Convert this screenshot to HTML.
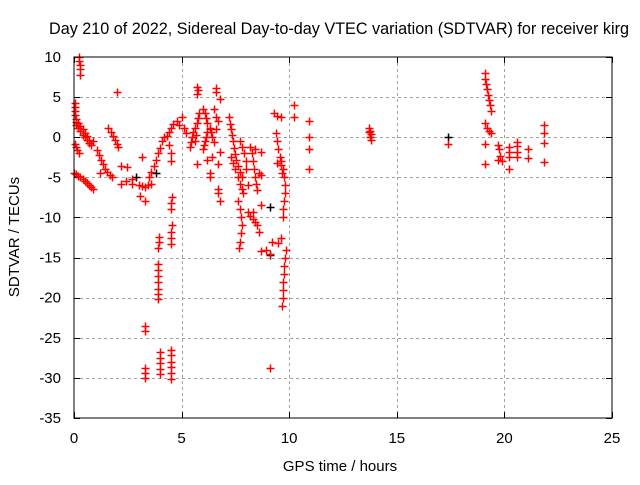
<!DOCTYPE html>
<html><head><meta charset="utf-8"><style>
body{margin:0;background:#fff}
svg text{font-family:"Liberation Sans",sans-serif;font-size:15px;fill:#000}
</style></head><body>
<svg id="chart" width="640" height="480" viewBox="0 0 640 480">
<rect width="640" height="480" fill="#fff"/>
<g id="grid"></g>
<g id="ticks"></g>
<g id="marks"></g>
<rect x="74" y="57" width="538" height="361" fill="none" stroke="#000" stroke-width="1"/>
<text x="339" y="34" text-anchor="middle" style="font-size:16.2px">Day 210 of 2022, Sidereal Day-to-day VTEC variation (SDTVAR) for receiver kirg</text>
<text x="340" y="471" text-anchor="middle">GPS time / hours</text>
<text transform="translate(19,237) rotate(-90)" text-anchor="middle">SDTVAR / TECUs</text>
</svg>
<script>
const xTicks=[0,5,10,15,20,25];
const yTicks=[10,5,0,-5,-10,-15,-20,-25,-30,-35];
const redPoints=[[0.25,10],[0.25,9.5],[0.27,9],[0.3,8.5],[0.3,7.8],[2.0,5.6],
[0.03,4.3],[0.04,3.8],[0.05,3.3],[0.06,2.8],[0.07,2.3],[0.08,1.9],
[0.1,1.5],[0.2,1.1],[0.3,0.8],[0.4,0.3],[0.5,0],[0.6,-0.4],[0.7,-0.7],[0.8,-1],
[0.2,1.8],[0.3,1.4],[0.4,1.0],[0.5,0.5],[0.6,0.1],[0.7,-0.3],[0.9,-0.5],
[0.05,-0.8],[0.1,-1.2],[0.15,-1.6],[0.25,-2],
[1.6,1.2],[1.7,0.7],[1.8,0.2],[1.9,-0.3],[2.0,-0.8],[2.05,-1.2],
[1.05,-1.6],[1.15,-2.2],[1.25,-2.8],[1.35,-3.4],[1.45,-3.9],[1.55,-4.3],[1.65,-4.7],[1.75,-5],
[0,-4.5],[0.1,-4.6],[0.2,-4.8],[0.3,-5.0],[0.4,-5.2],[0.5,-5.4],[0.6,-5.7],[0.7,-5.9],[0.8,-6.2],[0.9,-6.4],
[1.2,-4.4],[2.2,-3.6],[2.45,-3.7],[2.2,-5.8],[2.4,-5.5],[2.7,-5.2],[2.7,-5.8],
[3.0,-5.9],[3.15,-6.1],[3.3,-6.2],[3.45,-6.0],[3.6,-5.8],[3.05,-7.3],[3.3,-8],[3.15,-2.5],
[3.5,-5],[3.6,-4.3],[3.7,-3.6],[3.8,-2.8],[3.9,-2.0],[4.0,-1.3],[4.1,-0.5],[4.2,0],
[4.4,-1],[4.5,-2],[4.5,-3],
[4.3,0.2],[4.4,0.7],[4.5,1.2],[4.6,1.6],[4.8,2.0],[5.0,2.5],[5.1,1.2],[5.2,0.5],[4.9,1.5],
[4.55,-7.5],[4.5,-8.2],[4.5,-9],[4.55,-11],[4.5,-11.8],[4.5,-12.5],[4.5,-13.3],
[4.5,-26.5],[4.5,-27.2],[4.5,-28],[4.5,-28.7],[4.5,-29.4],[4.5,-30.2],
[3.3,-23.5],[3.3,-24.1],[3.3,-28.8],[3.3,-29.4],[3.3,-30],
[3.95,-12.4],[3.95,-13.1],[3.9,-13.8],[3.9,-15.8],[3.9,-16.6],[3.9,-17.3],[3.9,-18.1],[3.9,-18.9],[3.9,-19.6],[3.9,-20.2],
[4.0,-26.8],[4.0,-27.5],[4.0,-28.2],[4.0,-28.9],[4.0,-29.5],
[5.4,-1.2],[5.45,-0.6],[5.5,0],[5.55,0.6],[5.6,1.2],[5.7,1.8],[5.75,2.4],[5.8,3],[5.6,-0.5],[5.65,0.3],
[5.7,6.3],[5.75,5.9],[5.7,5.4],[5.7,-3.3],
[6.0,3.5],[6.1,3.0],[6.15,2.4],[6.2,1.8],[6.3,1.2],[6.35,0.6],[6.4,0],[6.5,-0.6],
[6.0,-1.5],[6.05,-1.0],[6.1,-0.5],[6.15,0],[6.2,0.6],[6.3,1.0],
[6.4,-2.5],[6.3,-4.5],[6.3,-5],[6.2,-2.8],[6.6,6.1],[6.6,5.6],[6.8,4.8],
[6.5,3.5],[6.6,2.5],[6.7,2],[6.6,1.0],[6.7,-6.5],[6.7,-7],[6.8,-8],[6.7,-3.4],[6.8,-1.8],
[7.2,2.5],[7.25,1.7],[7.3,1.0],[7.35,0.3],[7.4,-0.5],[7.45,-1.3],[7.5,-2.1],[7.55,-2.9],[7.6,-3.6],[7.7,-4.3],[7.8,-5],
[7.3,-2.5],[7.4,-3.2],[7.5,-4.0],[7.6,-5.0],[7.7,-5.8],[7.8,-6.5],[7.85,-7.0],
[7.7,-0.5],[7.8,-1.2],[7.9,-2],[8.0,-3],[8.0,-4],[8.1,-6],
[7.6,-8],[7.7,-9],[7.75,-10],[7.8,-11],[7.75,-12],[7.7,-13],[7.65,-13.8],
[8.1,-9.3],[8.2,-9.8],[8.3,-10.2],[8.4,-10.6],[8.5,-11],
[8.2,-1.2],[8.25,-2],[8.3,-3],[8.35,-4],[8.4,-5],[8.45,-5.8],[8.5,-6.6],
[8.4,-1.5],[8.7,-1.8],[8.6,-4.5],[8.7,-4.7],[8.3,-9.3],[8.6,-11.8],[8.7,-8.5],[8.9,-14],[8.7,-14.2],
[9.3,3],[9.45,2.7],[9.6,2.5],
[9.4,0.5],[9.45,-0.5],[9.5,-1.5],[9.55,-2.5],[9.6,-3.5],[9.65,-4.5],[9.45,-3.2],
[9.6,-3],[9.7,-4],[9.75,-5],[9.8,-6],[9.8,-7],[9.75,-8],[9.7,-9],[9.7,-10],
[9.85,-14],[9.8,-15],[9.75,-16],[9.75,-17],[9.7,-18],[9.7,-19],[9.7,-20],[9.65,-21],
[9.2,-13],[9.1,-14.5],[9.1,-28.8],[9.6,-12.5],[9.5,-13.2],
[10.2,4],[10.2,2.5],[10.9,2],[10.9,0],[10.9,-1.5],[10.9,-4],
[13.7,1.2],[13.75,0.8],[13.8,0.4],[13.75,0],[13.8,-0.4],[13.7,0.6],
[17.4,-0.8],
[19.1,8],[19.12,7.3],[19.15,6.6],[19.2,6],[19.25,5.3],[19.3,4.6],[19.35,4],[19.4,3.3],
[19.1,1.8],[19.2,1.2],[19.3,0.8],[19.4,0.5],[19.1,-0.8],[19.1,-3.3],
[19.7,-1],[19.75,-1.5],[19.8,-2.3],[19.7,-2.8],[19.9,-3],
[20.2,-1.2],[20.2,-1.9],[20.2,-2.5],[20.2,-3.9],
[20.6,-0.6],[20.6,-1.1],[20.6,-1.8],[20.6,-2.5],
[21.1,-1.5],[21.1,-2.6],
[21.85,1.5],[21.85,0.5],[21.85,-0.7],[21.85,-3.1]];
const blackPoints=[[2.9,-5],[9.1,-14.7],[9.1,-8.7],[17.4,0],[3.8,-4.5]];

const X0=74,X1=612,Y0=57,Y1=418,xmin=0,xmax=25,ymin=-35,ymax=10;
function sx(v){return X0+(v-xmin)/(xmax-xmin)*(X1-X0);}
function sy(v){return Y1-(v-ymin)/(ymax-ymin)*(Y1-Y0);}
const NS='http://www.w3.org/2000/svg';
function mk(tag,attrs,parent){const e=document.createElementNS(NS,tag);for(const k in attrs)e.setAttribute(k,attrs[k]);parent.appendChild(e);return e;}
const grid=document.getElementById('grid'),ticks=document.getElementById('ticks'),marks=document.getElementById('marks');
xTicks.forEach(t=>{
  const x=Math.round(sx(t))+0.5;
  if(t>xmin&&t<xmax){
    const g=mk('line',{x1:x,x2:x,y1:Y0,y2:Y1,stroke:'#a0a0a0','stroke-dasharray':'3,3'},grid);
    
    
  }
  mk('line',{x1:x,x2:x,y1:Y1,y2:Y1-6,stroke:'#000'},ticks);
  mk('line',{x1:x,x2:x,y1:Y0,y2:Y0+6,stroke:'#000'},ticks);
  const l=mk('text',{x:sx(t),y:443,'text-anchor':'middle'},ticks);
  l.textContent=t;
  
  
});
yTicks.forEach(t=>{
  const y=Math.round(sy(t))+0.5;
  if(t>ymin&&t<ymax){
    const g=mk('line',{x1:X0,x2:X1,y1:y,y2:y,stroke:'#a0a0a0','stroke-dasharray':'3,3'},grid);
    
    
  }
  mk('line',{x1:X0,x2:X0+6,y1:y,y2:y,stroke:'#000'},ticks);
  mk('line',{x1:X1,x2:X1-6,y1:y,y2:y,stroke:'#000'},ticks);
  const l=mk('text',{x:61,y:sy(t)+5,'text-anchor':'end'},ticks);
  l.textContent=t;
  
  
});
function plus(p,color,name){
  const x=Math.round(sx(p[0]))+0.5,y=Math.round(sy(p[1]))+0.5;
  const e=mk('path',{d:`M${x-4},${y}H${x+4}M${x},${y-4}V${y+4}`,stroke:color,'stroke-width':1.5,fill:'none'},marks);
  
  
}
blackPoints.forEach(p=>plus(p,'#000','sdtvar-point-black'));
redPoints.forEach(p=>plus(p,'#ff0000','sdtvar-point'));
</script>
</body></html>
